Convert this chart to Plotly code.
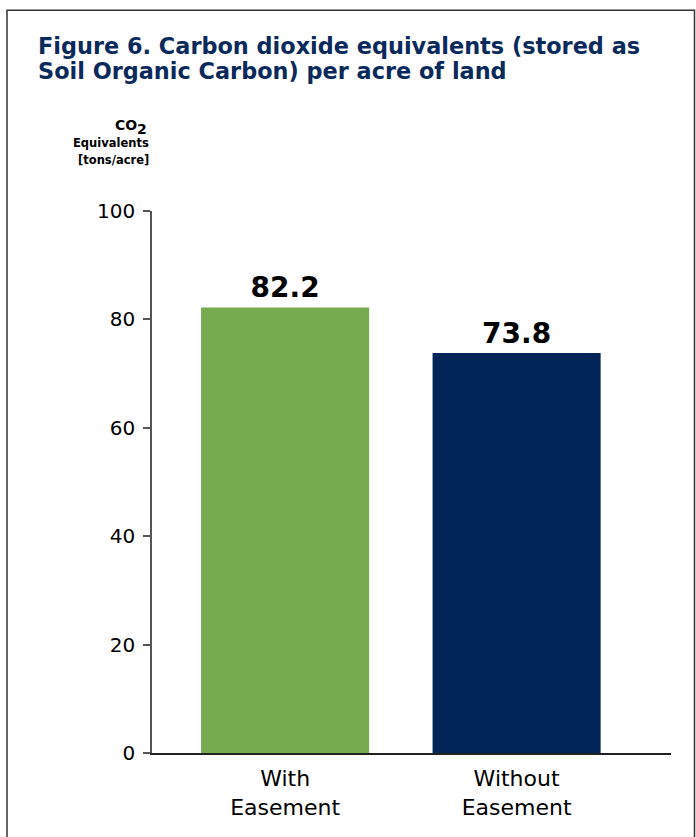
import plotly.graph_objects as go

categories = ["With Easement", "Without Easement"]
values = [82.2, 73.8]
bar_colors = ["#77AB50", "#022559"]
y_ticks = [0, 20, 40, 60, 80, 100]
title_lines = ["Figure 6. Carbon dioxide equivalents (stored as",
               "Soil Organic Carbon) per acre of land"]
y_title_lines = ["Equivalents", "[tons/acre]"]

W, H = 696, 837
L, R = 152, 671
T, B = 210.7, 752.7

def px_x(p):
    return (p - L) / (R - L)

def px_y(p):
    return (B - p) / (B - T)

fig = go.Figure()
fig.add_trace(go.Bar(
    x=[0, 1],
    y=values,
    marker=dict(color=bar_colors, line=dict(width=0)),
    width=0.726,
    text=[f"{v:.1f}" for v in values],
    textposition="outside",
    textfont=dict(family="DejaVu Sans", size=28, color="#000000"),
    texttemplate="<b>%{text}</b>",
    cliponaxis=False,
))

annotations = []
for i, (line, yc) in enumerate(zip(title_lines, [46, 71])):
    annotations.append(dict(
        text=f"<b>{line}</b>", xref="paper", yref="paper",
        x=px_x(36), y=px_y(yc), xanchor="left", yanchor="middle",
        showarrow=False,
        font=dict(family="DejaVu Sans", size=22.4, color="#0B2A5C"),
    ))
# y-axis title
annotations.append(dict(
    text="<b>CO</b>", xref="paper", yref="paper",
    x=px_x(139), y=px_y(125), xanchor="right", yanchor="middle",
    showarrow=False,
    font=dict(family="DejaVu Sans", size=14, color="#000000"),
))
annotations.append(dict(
    text="<b>2</b>", xref="paper", yref="paper",
    x=px_x(135), y=px_y(129), xanchor="left", yanchor="middle",
    showarrow=False,
    font=dict(family="DejaVu Sans", size=14, color="#000000"),
))
for line, yc in zip(y_title_lines, [143, 160]):
    annotations.append(dict(
        text=f"<b>{line}</b>", xref="paper", yref="paper",
        x=px_x(151), y=px_y(yc), xanchor="right", yanchor="middle",
        showarrow=False,
        font=dict(family="DejaVu Sans", size=11.5, color="#000000"),
    ))

fig.update_layout(
    width=W, height=H,
    margin=dict(l=L, r=W - R, t=T, b=H - B, pad=0),
    paper_bgcolor="white",
    plot_bgcolor="white",
    showlegend=False,
    font=dict(family="DejaVu Sans", color="#000000"),
    xaxis=dict(
        range=[-0.575, 1.667],
        tickvals=[0, 1],
        ticktext=[c.replace(" ", "<br>") for c in categories],
        tickfont=dict(size=22, color="#000000"),
        showline=True, linecolor="#222222", linewidth=2,
        showgrid=False, zeroline=False, ticks="",
        ticklabelstandoff=5,
    ),
    yaxis=dict(
        range=[0, 100],
        tickvals=y_ticks,
        tickfont=dict(size=20, color="#000000"),
        showline=True, linecolor="#555555", linewidth=1.5,
        ticks="outside", ticklen=7, tickcolor="#555555", tickwidth=1.5,
        showgrid=False, zeroline=False,
        ticklabelstandoff=4,
    ),
    annotations=annotations,
    shapes=[dict(
        type="rect", xref="paper", yref="paper",
        x0=px_x(7), x1=px_x(694.5), y0=px_y(850), y1=px_y(10),
        line=dict(color="#333333", width=1.5),
    )],
)

fig.write_html("out.html")
